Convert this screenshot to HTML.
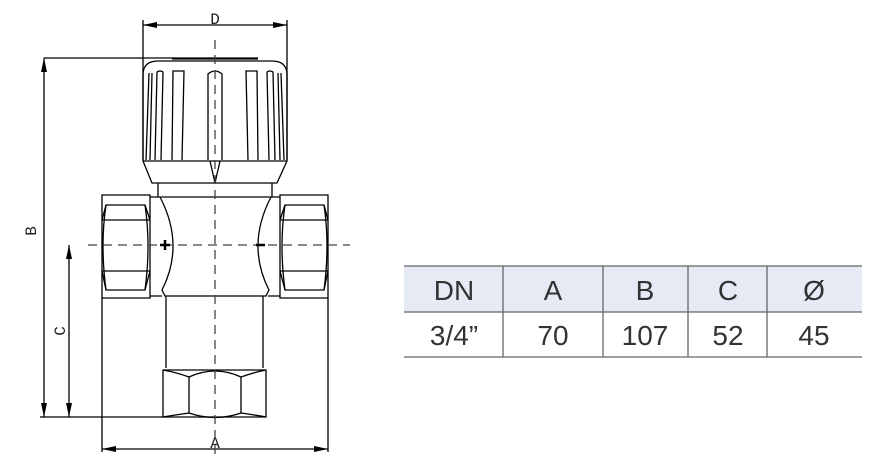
<!DOCTYPE html>
<html><head><style>
html,body{margin:0;padding:0;background:#fff;}
</style></head><body>
<div style="position:relative;width:885px;height:467px;overflow:hidden;">
<svg width="885" height="467" style="position:absolute;left:0;top:0" xmlns="http://www.w3.org/2000/svg">
<defs>
<marker id="ar" markerWidth="14" markerHeight="6" refX="14" refY="3" orient="auto" markerUnits="userSpaceOnUse"><path d="M0,0 L14,3 L0,6 z" fill="#000"/></marker>
</defs>
<g stroke="#000" stroke-width="1.3" fill="none">
<line x1="143" y1="20" x2="143" y2="160"/>
<line x1="287" y1="20" x2="287" y2="160"/>
<line x1="215" y1="25" x2="143" y2="25" marker-end="url(#ar)"/>
<line x1="215" y1="25" x2="287" y2="25" marker-end="url(#ar)"/>
<line x1="44" y1="58" x2="258" y2="58"/>
<line x1="44" y1="240" x2="44" y2="58" marker-end="url(#ar)"/>
<line x1="44" y1="240" x2="44" y2="417" marker-end="url(#ar)"/>
<line x1="40" y1="417" x2="163" y2="417"/>
<line x1="69" y1="330" x2="69" y2="245" marker-end="url(#ar)"/>
<line x1="69" y1="330" x2="69" y2="417" marker-end="url(#ar)"/>
<line x1="102" y1="298" x2="102" y2="452"/>
<line x1="328" y1="298" x2="328" y2="452"/>
<line x1="215" y1="449" x2="102" y2="449" marker-end="url(#ar)"/>
<line x1="215" y1="449" x2="328" y2="449" marker-end="url(#ar)"/>
<path d="M143,161 L143,75 Q143,61 158,61 L272,61 Q287,61 287,75 L287,161 Z"/>
<line x1="172" y1="59" x2="258" y2="59"/>
<path d="M143,161 L152,183 L277,183 L287,161"/>
<path d="M158,183 L158,197 M272,183 L272,197"/>
<path d="M146,160 L149,73 M150,160 L152,73" />
<path d="M155,160 L157,72 Q160,70 163,72 L161,160"/>
<path d="M172,160 L173,71 L184,71 L182,160"/>
<path d="M208,160 L208,74 Q215,68 222,74 L222,160"/>
<path d="M248,160 L246,71 L257,71 L258,160"/>
<path d="M269,160 L267,72 Q270,70 273,72 L275,160"/>
<path d="M280,160 L278,73 M284,160 L281,73"/>
<path d="M210,161 L215,183 L220,161"/>
<path d="M102,298 L102,195 L150,195 L150,298 Z"/>
<path d="M102,220 L106,205 L145,205 L150,220 M102,220 L150,220"/>
<path d="M102,271 L150,271 M102,271 L106,290 L145,290 L150,271"/>
<path d="M106,205 Q100,245 106,290 M145,205 Q151,245 145,290"/>
<path d="M280,298 L280,195 L328,195 L328,298 Z"/>
<path d="M280,220 L285,205 L324,205 L328,220 M280,220 L328,220"/>
<path d="M280,271 L328,271 M280,271 L285,290 L324,290 L328,271"/>
<path d="M285,205 Q279,245 285,290 M324,205 Q330,245 324,290"/>
<path d="M150,197 L280,197"/>
<path d="M160,197 Q185,245 162,290 L165,296 L266,296 L269,290 Q246,245 271,197"/>
<path d="M150,296 L162,296 M268,296 L280,296"/>
<path d="M166,296 L166,368 M263,296 L263,368"/>
<path d="M163,417 L163,370 L266,370 L266,417 Z"/>
<path d="M163,370 Q175,372 189,377 Q215,365 241,377 Q255,372 266,370"/>
<path d="M163,417 Q175,415 189,413 Q215,422 241,413 Q255,415 266,417"/>
<path d="M189,377 L189,413 M241,377 L241,413"/>
</g>
<g stroke="#444" stroke-width="1.3" stroke-dasharray="9,6" fill="none">
<line x1="215" y1="40" x2="215" y2="455"/>
<line x1="88" y1="245" x2="350" y2="245"/>
</g>
<path d="M160,245 h10 M165,240 v10" stroke="#000" stroke-width="2.5"/>
<path d="M256,245 h9" stroke="#000" stroke-width="2.5"/>
<g font-family="Liberation Mono,monospace" font-size="16" fill="#222" text-anchor="middle">
<text x="215" y="24">D</text>
<text x="215" y="448">A</text>
<text transform="translate(36,231) rotate(-90)">B</text>
<text transform="translate(65,331) rotate(-90)">C</text>
</g>
<rect x="404" y="266" width="458" height="46" fill="#e5eaf5"/>
<g stroke="#666" stroke-width="1.3">
<line x1="404" y1="266" x2="862" y2="266"/>
<line x1="404" y1="312" x2="862" y2="312"/>
<line x1="404" y1="357" x2="862" y2="357"/>
<line x1="503" y1="266" x2="503" y2="357"/>
<line x1="603" y1="266" x2="603" y2="357"/>
<line x1="688" y1="266" x2="688" y2="357"/>
<line x1="767" y1="266" x2="767" y2="357"/>
</g>
<g font-family="Liberation Sans,sans-serif" font-size="28" fill="#333" text-anchor="middle">
<text x="454" y="300">DN</text><text x="553" y="300">A</text><text x="645" y="300">B</text><text x="728" y="300">C</text><text x="814" y="300">Ø</text>
<text x="454" y="345">3/4”</text><text x="553" y="345">70</text><text x="645" y="345">107</text><text x="728" y="345">52</text><text x="814" y="345">45</text>
</g>
</svg>
</div>
</body></html>
